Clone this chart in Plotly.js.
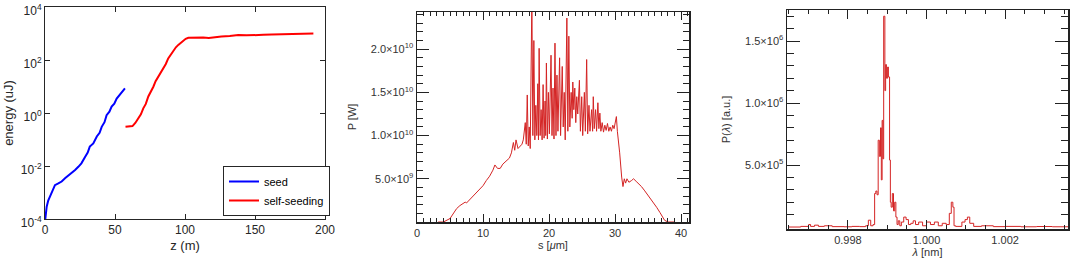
<!DOCTYPE html>
<html>
<head>
<meta charset="utf-8">
<script src="https://cdn.plot.ly/plotly-3.0.1.min.js"></script>
<style>
  html, body { margin: 0; padding: 0; background: #fff; }
  #chart { width: 1072px; height: 265px; }
</style>
</head>
<body>
<div id="chart"></div>
<script>
// panel 1: gain curves (energy in uJ vs z in m)
let seedZ = [0, 0.4, 1.2, 2.3, 3.6, 5.0, 7.1, 9.5, 11.9, 14.5, 17.0, 19.0, 21.5, 23.8, 26.0, 28.6, 30.5, 32.0, 34.5, 37.0, 39.0, 40.5, 42.5, 44.0, 46.0, 47.6, 49.5, 51.2, 53.0, 54.8, 57.1];
let seedE = [0.8e-4, 1.5e-4, 2.9e-4, 5e-4, 6.9e-4, 1e-3, 1.9e-3, 2.2e-3, 2.6e-3, 3.5e-3, 4.5e-3, 5.2e-3, 7.1e-3, 9.3e-3, 1.26e-2, 2.2e-2, 3.2e-2, 5.4e-2, 7.1e-2, 0.13, 0.18, 0.30, 0.45, 0.83, 1.12, 1.74, 2.24, 3.5, 4.5, 6.3, 8.5];
let selfZ = [57.5, 60, 62.5, 64.5, 66.7, 68.5, 70.2, 72, 73.8, 75.5, 77.4, 79, 81, 82.8, 84.5, 86.3, 88, 90, 91.7, 93.5, 95.2, 97, 98.8, 100.5, 102.4, 106, 110, 113, 117, 121, 126, 132, 138, 144, 150, 156, 162, 168, 174, 180, 186, 191.7];
let selfE = [0.30, 0.30, 0.32, 0.42, 0.63, 0.89, 1.5, 2.2, 4.2, 6.0, 9.8, 15.8, 23.4, 35.5, 49, 71, 115, 166, 240, 302, 372, 447, 537, 631, 692, 708, 724, 708, 676, 724, 776, 813, 871, 851, 891, 891, 912, 933, 955, 955, 977, 1000];
let energyTicks = [1e-4, 1e-2, 1, 1e2, 1e4];
let energyTickText = ['10<sup>-4</sup>', '10<sup>-2</sup>', '10<sup>0</sup>', '10<sup>2</sup>', '10<sup>4</sup>'];

// panel 2: power profile (P in units of 1e10 W vs s in um)
let powerS = [3.2, 4.0, 5.0, 5.5, 6.0, 6.5, 7.0, 7.3, 7.5, 8.0, 8.5, 9.0, 9.5, 10.0, 10.5, 11.0, 11.5, 11.8, 12.2, 12.6, 13.0, 13.3, 13.6, 14.0, 14.3, 14.6, 14.8, 15.0, 15.3, 15.6, 15.9, 16.1,
  16.4, 16.55, 16.7, 16.85, 17.0, 17.15, 17.4, 17.55, 17.7, 17.85, 18.0, 18.15, 18.3, 18.4, 18.5, 18.65, 18.8, 18.95, 19.1, 19.25, 19.4, 19.5, 19.6, 19.75, 19.9, 20.05,
  20.3, 20.45, 20.6, 20.75, 20.9, 21.05, 21.2, 21.35, 21.6, 21.75, 22.0, 22.15, 22.3, 22.45, 22.7, 22.85, 23.0, 23.15, 23.35, 23.5, 23.6, 23.75, 23.9, 24.05, 24.2, 24.35,
  24.6, 24.75, 24.95, 25.1, 25.35, 25.5, 25.7, 25.85, 26.05, 26.2, 26.45, 26.6, 26.7, 26.85, 27.05, 27.2, 27.4, 27.55, 27.7, 27.85, 28.05, 28.25, 28.45, 28.65, 28.85,
  29.05, 29.25, 29.45, 29.65, 29.85, 30.05, 30.2, 30.35, 30.5, 30.7, 31.0, 31.2, 31.4, 31.6, 31.8, 32.1, 32.5, 32.8, 33.2, 33.6, 34.0, 34.5, 35.0, 35.4, 35.8, 36.3,
  36.8, 37.2, 37.5, 38.0, 38.5, 39.0];
let powerP = [0, 0, 0.04, 0.1, 0.155, 0.19, 0.21, 0.23, 0.22, 0.26, 0.29, 0.33, 0.37, 0.42, 0.48, 0.53, 0.6, 0.66, 0.62, 0.62, 0.67, 0.69, 0.72, 0.74, 0.80, 0.92, 0.83, 0.95, 0.85, 0.87, 0.9, 0.95,
  1.15, 0.9, 1.47, 0.88, 1.1, 0.85, 2.6, 1.0, 2.1, 0.95, 1.35, 1.0, 1.6, 0.95, 2.01, 1.0, 1.3, 0.95, 1.59, 0.97, 1.4, 1.0, 1.84, 0.96, 1.5, 1.02,
  1.93, 1.0, 1.55, 0.96, 2.07, 1.0, 1.7, 1.05, 1.9, 1.0, 1.8, 1.1, 1.5, 0.95, 2.36, 1.05, 2.15, 1.1, 1.5, 1.2, 1.62, 1.3, 1.55, 1.15, 1.45, 1.25,
  1.64, 1.05, 1.45, 1.0, 1.5, 1.05, 1.88, 1.02, 1.35, 1.05, 1.3, 1.05, 1.45, 1.08, 1.3, 1.05, 1.38, 1.08, 1.26, 1.05, 1.15, 1.04, 1.12, 1.06, 1.14,
  1.05, 1.1, 1.05, 1.12, 1.08, 1.18, 1.22, 1.05, 0.95, 0.8, 0.52, 0.41, 0.5, 0.45, 0.5, 0.46, 0.48, 0.5, 0.47, 0.44, 0.41, 0.36, 0.31, 0.27, 0.23, 0.17,
  0.11, 0.05, 0.02, 0, 0, 0];
let powerTicks = [0.5, 1.0, 1.5, 2.0];
let powerTickText = ['5.0×10<sup>9</sup>', '1.0×10<sup>10</sup>', '1.5×10<sup>10</sup>', '2.0×10<sup>10</sup>'];

// panel 3: spectrum (P in units of 1e6 a.u. vs wavelength in nm)
let specL = [0.99650, 0.99680, 0.99700, 0.99705, 0.99715, 0.99725, 0.99740, 0.99760, 0.99790, 0.99810, 0.99830, 0.99845, 0.99852, 0.99858, 0.99864, 0.99868,
  0.99871, 0.99874, 0.99877, 0.99880, 0.99883, 0.99885, 0.99887, 0.99889, 0.99891, 0.99894, 0.99896, 0.99898, 0.99901, 0.99903, 0.99906, 0.99908, 0.99910,
  0.99913, 0.99916, 0.99919, 0.99922, 0.99925, 0.99928, 0.99932, 0.99936, 0.99942, 0.99948, 0.99954, 0.99960, 0.99966, 0.99972, 0.99980, 0.99990, 1.00000,
  1.00010, 1.00020, 1.00030, 1.00040, 1.00050, 1.00058, 1.00063, 1.00067, 1.00070, 1.00074, 1.00080, 1.00090, 1.00098, 1.00104, 1.00110, 1.00120, 1.00140,
  1.00170, 1.00200, 1.00240, 1.00280, 1.00320, 1.00360];
let specP = [0, 0.005, 0.02, 0.005, 0.015, 0.005, 0.01, 0.003, 0.002, 0.005, 0.003, 0.01, 0.055, 0.01, 0.02, 0.27,
  0.29, 0.26, 0.70, 0.57, 0.80, 0.38, 0.86, 0.55, 1.70, 1.10, 1.31, 1.20, 1.29, 1.21, 0.54, 0.20, 0.16,
  0.27, 0.13, 0.20, 0.08, 0.02, 0.05, 0.01, 0.04, 0.08, 0.06, 0.02, 0.03, 0.05, 0.02, 0.04, 0.01, 0.04,
  0.02, 0.04, 0.01, 0.03, 0.02, 0.11, 0.20, 0.16, 0.01, 0.005, 0.005, 0.04, 0.06, 0.08, 0.03, 0.005, 0.01,
  0.003, 0.005, 0.002, 0.004, 0.002, 0.003];
let specTicks = [0.5, 1.0, 1.5];
let specTickText = ['5.0×10<sup>5</sup>', '1.0×10<sup>6</sup>', '1.5×10<sup>6</sup>'];

const W = 1072, H = 265;
function xdom(a, b) { return [a / W, b / W]; }
function ydom(top, bottom) { return [1 - bottom / H, 1 - top / H]; }

let matlabFont = { family: 'Liberation Sans, Arial, sans-serif', size: 12, color: '#262626' };
let idlFont = { family: 'Liberation Sans, Arial, sans-serif', size: 11, color: '#333' };
let red = 'rgb(212,36,36)';

let data = [
  { x: seedZ, y: seedE, type: 'scatter', mode: 'lines', name: 'seed', line: { color: '#0000ff', width: 2 }, xaxis: 'x', yaxis: 'y' },
  { x: selfZ, y: selfE, type: 'scatter', mode: 'lines', name: 'self-seeding', line: { color: '#ff0000', width: 2 }, xaxis: 'x', yaxis: 'y' },
  { x: powerS, y: powerP, type: 'scatter', mode: 'lines', showlegend: false, line: { color: red, width: 1 }, xaxis: 'x2', yaxis: 'y2' },
  { x: specL, y: specP, type: 'scatter', mode: 'lines', showlegend: false, line: { color: red, width: 1, shape: 'hv' }, xaxis: 'x3', yaxis: 'y3' }
];

let idlAxis = {
  showline: true, linecolor: '#222', linewidth: 1.5, mirror: 'allticks', ticks: 'inside',
  tickcolor: '#222', tickwidth: 1, showgrid: false, zeroline: false, tickfont: idlFont,
  ticklabeloverflow: 'allow'
};

var layout = {
  width: W, height: H,
  margin: { l: 0, r: 0, t: 0, b: 0 },
  paper_bgcolor: '#fff', plot_bgcolor: '#fff',
  font: matlabFont,
  showlegend: true,
  legend: {
    x: 223 / W, y: 1 - 166 / H, xanchor: 'left', yanchor: 'top',
    bordercolor: '#262626', borderwidth: 1, bgcolor: '#fff',
    font: { family: matlabFont.family, size: 11, color: '#000' },
    itemwidth: 30, tracegroupgap: 0
  },
  xaxis: {
    domain: xdom(45, 325), range: [0, 200], dtick: 50,
    showline: true, linecolor: '#262626', mirror: 'ticks', ticks: 'inside', ticklen: 5,
    tickcolor: '#262626', showgrid: false, zeroline: false, tickfont: matlabFont,
    ticklabeloverflow: 'allow',
    title: { text: 'z (m)', font: { size: 13, color: '#262626' }, standoff: 4 }
  },
  yaxis: {
    domain: ydom(7, 219), type: 'log', range: [-4, 4],
    tickvals: energyTicks, ticktext: energyTickText,
    showline: true, linecolor: '#262626', mirror: 'ticks', ticks: 'inside', ticklen: 5,
    tickcolor: '#262626', showgrid: false, zeroline: false, tickfont: matlabFont,
    ticklabeloverflow: 'allow', ticklabelshift: 4,
    title: { text: 'energy (uJ)', font: { size: 13, color: '#262626' }, standoff: 4 }
  },
  xaxis2: Object.assign({}, idlAxis, {
    domain: xdom(417, 689), range: [0, 41.2], tick0: 0, dtick: 10, ticklen: 8,
    minor: { dtick: 1, ticklen: 4, ticks: 'inside', tickcolor: '#222' },
    anchor: 'y2',
    title: { text: 's [<i>μ</i>m]', font: idlFont, standoff: 1 }
  }),
  yaxis2: Object.assign({}, idlAxis, {
    domain: ydom(12, 222), range: [0, 2.43], ticklen: 12,
    tickvals: powerTicks, ticktext: powerTickText,
    minor: { tickvals: [0.1, 0.2, 0.3, 0.4, 0.6, 0.7, 0.8, 0.9, 1.1, 1.2, 1.3, 1.4, 1.6, 1.7, 1.8, 1.9, 2.1, 2.2, 2.3, 2.4], ticklen: 6, ticks: 'inside', tickcolor: '#222' },
    anchor: 'x2',
    title: { text: 'P [W]', font: idlFont, standoff: 12 }
  }),
  xaxis3: Object.assign({}, idlAxis, {
    domain: xdom(787, 1068), range: [0.99645, 1.0036], tick0: 0.998, dtick: 0.002, ticklen: 9,
    tickformat: '.3f',
    minor: { dtick: 0.0005, ticklen: 4, ticks: 'inside', tickcolor: '#222' },
    anchor: 'y3',
    title: { text: '<i>λ</i> [nm]', font: idlFont, standoff: 2 }
  }),
  yaxis3: Object.assign({}, idlAxis, {
    domain: ydom(10, 229), range: [-0.016, 1.75], ticklen: 13,
    tickvals: specTicks, ticktext: specTickText,
    minor: { tickvals: [0.1, 0.2, 0.3, 0.4, 0.6, 0.7, 0.8, 0.9, 1.1, 1.2, 1.3, 1.4, 1.6, 1.7], ticklen: 7, ticks: 'inside', tickcolor: '#222' },
    anchor: 'x3',
    title: { text: 'P(<i>λ</i>) [a.u.]', font: idlFont, standoff: 12 }
  })
};

Plotly.newPlot('chart', data, layout, { staticPlot: true });
</script>
</body>
</html>
